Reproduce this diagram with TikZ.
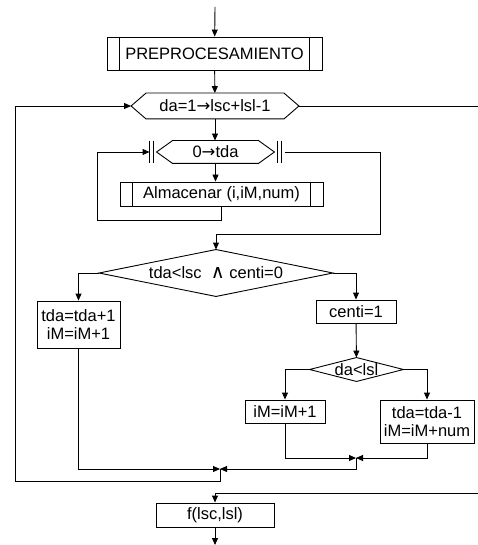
\documentclass[tikz,border=0pt]{standalone}
\usepackage{fontspec}
\setmainfont{Liberation Sans}
\newfontfamily\symfont{DejaVu Sans}
\usetikzlibrary{arrows.meta}

\begin{document}
\begin{tikzpicture}[
  x=1pt, y=-1pt,
  line width=0.9pt,
  >={Triangle[length=7pt,width=6pt]},
  base/.style={inner sep=0pt, align=center, font=\fontsize{16.5}{17.5}\selectfont},
  proc/.style={base, draw, rectangle},
  subr/.style={proc, append after command={\pgfextra{\draw
      ([xshift=13pt]\tikzlastnode.north west) -- ([xshift=13pt]\tikzlastnode.south west)
      ([xshift=-13pt]\tikzlastnode.north east) -- ([xshift=-13pt]\tikzlastnode.south east);}}},
  decis/.style={base, append after command={\pgfextra{\draw
      (\tikzlastnode.north) -- (\tikzlastnode.east) -- (\tikzlastnode.south)
      -- (\tikzlastnode.west) -- cycle;}}},
  hexa/.style={base, append after command={\pgfextra{\draw
      ([xshift=#1]\tikzlastnode.north west) -- ([xshift=-#1]\tikzlastnode.north east)
      -- (\tikzlastnode.east) -- ([xshift=-#1]\tikzlastnode.south east)
      -- ([xshift=#1]\tikzlastnode.south west) -- (\tikzlastnode.west) -- cycle;}}}
]
\useasboundingbox (0,0) rectangle (478,545);

\coordinate (start) at (215,7);
\node[subr, minimum width=215pt, minimum height=33pt] (pre) at (214.5,53.5) {PREPROCESAMIENTO};
\node[hexa=15pt, minimum width=167pt, minimum height=25pt] (ciclo) at (215,106) {da=1{\symfont →}lsc+lsl-1};
\node[hexa=16pt, minimum width=117pt, minimum height=22pt] (ciclo2) at (215.5,152) {0{\symfont →}tda};
\node[subr, minimum width=203pt, minimum height=24pt] (alm) at (221.5,194) {Almacenar (i,iM,num)};
\node[decis, minimum width=233pt, minimum height=46pt] (cond) at (216,273) {tda<lsc~ {\symfont\fontsize{19}{19}\selectfont ∧} centi=0};
\node[proc, minimum width=83pt, minimum height=47pt] (inc) at (78.5,324.5) {tda=tda+1\\iM=iM+1};
\node[proc, minimum width=80pt, minimum height=23pt] (centi) at (356,311.5) {centi=1};
\node[decis, minimum width=93pt, minimum height=23pt] (cond2) at (356.5,369.5) {da<lsl};
\node[proc, minimum width=80pt, minimum height=23pt] (im1) at (285,411.5) {iM=iM+1};
\node[proc, minimum width=94pt, minimum height=43pt] (im2) at (427,421.5) {tda=tda-1\\iM=iM+num};
\node[proc, minimum width=118pt, minimum height=24pt] (fin) at (215,515) {f(lsc,lsl)};
\coordinate (stop) at (215,545);

% bars of the inner loop
\foreach \dx in {-7,-3} \draw ([xshift=\dx pt]ciclo2.north west) -- ([xshift=\dx pt]ciclo2.south west);
\foreach \dx in {3,7} \draw ([xshift=\dx pt]ciclo2.north east) -- ([xshift=\dx pt]ciclo2.south east);

% helper points
\coordinate (j1) at (220,469);
\coordinate (j2) at (356,458);
\coordinate (lft) at (15,481);
\coordinate (lpl) at (97,220);
\coordinate (lpr) at (380,234);
\coordinate (out1) at (478,106);
\coordinate (out2) at (478,493);

\draw[->] (start) -- (pre);
\draw[->] (pre) -- (ciclo);
\draw[->] (ciclo.south) -- (ciclo.south |- ciclo2.north);
\draw[->] (ciclo2.south) -- (ciclo2.south |- alm.north);
\draw[->] (alm.south) |- (lpl) |- ([xshift=-7pt]ciclo2.west);
\draw[->] ([xshift=11pt]ciclo2.east) -| (lpr) -| (cond.north);
\draw[->] (cond.west) -| (inc.north);
\draw[->] (cond.east) -| (centi.north);
\draw[->] (centi) -- (cond2);
\draw[->] (cond2.west) -| (im1.north);
\draw[->] (cond2.east) -| (im2.north);
\draw[->] (im1.south) |- (j2);
\draw[->] (im2.south) |- (j2);
\draw[->] (j2) |- (j1);
\draw[->] (inc.south) |- (j1);
\draw[->] (j1) |- (lft) |- (ciclo.west);
\draw (ciclo.east) -- (out1);
\draw[->] (out2) -| (fin.north);
\draw[->] (fin) -- (stop);
\end{tikzpicture}
\end{document}
